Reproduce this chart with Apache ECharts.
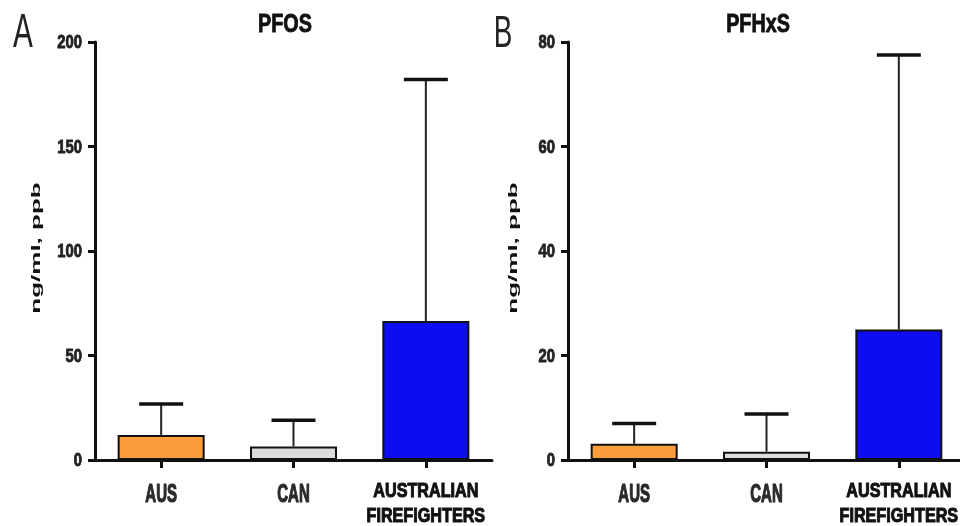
<!DOCTYPE html>
<html>
<head>
<meta charset="utf-8">
<script src="https://cdn.jsdelivr.net/npm/echarts@6/dist/echarts.min.js"></script>
<style>
html,body{margin:0;padding:0;background:#fff;}
#chart{width:960px;height:526px;}
</style>
</head>
<body>
<div id="chart"></div>
<script>
var categories = ['AUS', 'CAN', 'AUSTRALIAN\nFIREFIGHTERS'];
var pfosMean = [12, 6.5, 66.5];
var pfosUpper = [26.8, 19, 182];
var pfhxsMean = [3.1, 1.6, 25];
var pfhxsUpper = [7, 8.8, 77.5];
var pfosTicks = [0, 50, 100, 150, 200];
var pfhxsTicks = [0, 20, 40, 60, 80];
var titles = ['PFOS', 'PFHxS'];
var panelLetters = ['A', 'B'];
var yName = 'ng/ml, ppb';
var barColors = ['#F99D3D', '#DCDCDC', '#0D0DF0'];

var FONT = 'Liberation Sans';
var chart = echarts.init(document.getElementById('chart'), null, {renderer: 'canvas'});

function yAxisCfg(gridIndex, ticks) {
  return {
    type: 'value', gridIndex: gridIndex,
    min: ticks[0], max: ticks[ticks.length - 1], interval: ticks[1] - ticks[0],
    axisLine: {show: true, lineStyle: {color: '#111', width: 3}},
    axisTick: {show: true, length: 7, lineStyle: {color: '#111', width: 3}},
    splitLine: {show: false},
    axisLabel: {show: false}
  };
}
function xAxisCfg(gridIndex) {
  return {
    type: 'category', gridIndex: gridIndex, data: categories,
    axisLine: {show: true, lineStyle: {color: '#111', width: 3}},
    axisTick: {show: true, alignWithLabel: true, length: 8, lineStyle: {color: '#111', width: 3}},
    axisLabel: {show: false}
  };
}
function barData(vals) {
  return vals.map(function (v, i) {
    return {value: v, itemStyle: {color: barColors[i]}};
  });
}
function errData(mean, upper) {
  return mean.map(function (m, i) { return [i, m, upper[i]]; });
}
function renderErr(params, api) {
  var base = api.coord([api.value(0), api.value(1)]);
  var top = api.coord([api.value(0), api.value(2)]);
  var half = 22;
  return {
    type: 'group',
    children: [
      {type: 'line', shape: {x1: base[0], y1: base[1], x2: top[0], y2: top[1]},
       style: {stroke: '#222', lineWidth: 2}},
      {type: 'line', shape: {x1: top[0] - half, y1: top[1], x2: top[0] + half, y2: top[1]},
       style: {stroke: '#111', lineWidth: 3.5}}
    ]
  };
}
// y tick labels (condensed look via horizontal scale)
function renderYLabel(params, api) {
  var v = api.value(1);
  var p = api.coord([0, v]);
  return {
    type: 'text', x: params.coordSys.x - 13, y: p[1] + 1, scaleX: 0.78,
    style: {text: String(v), font: 'bold 19px "Liberation Sans"', fontFamily: FONT, fontWeight: 'bold', fontSize: 19,
            fill: '#222', stroke: '#222', lineWidth: 0.9,
            align: 'right', verticalAlign: 'middle'}
  };
}
// category labels
function renderXLabel(params, api) {
  var i = api.value(0);
  var p = api.coord([i, 0]);
  var txt = categories[i];
  if (txt.indexOf('\n') >= 0) {
    return {
      type: 'text', x: p[0], y: p[1] + 44, scaleX: 0.77,
      style: {text: txt, font: 'bold 21px "Liberation Sans"', fontFamily: FONT, fontWeight: 'bold', fontSize: 21,
              lineHeight: 25, fill: '#111', stroke: '#111', lineWidth: 1.1,
              align: 'center', verticalAlign: 'middle'}
    };
  }
  return {
    type: 'text', x: p[0], y: p[1] + 35, scaleX: 0.6,
    style: {text: txt, font: 'bold 25px "Liberation Sans"', fontFamily: FONT, fontWeight: 'bold', fontSize: 25,
            fill: '#2a2a2a', stroke: '#2a2a2a', lineWidth: 1.2,
            align: 'center', verticalAlign: 'middle'}
  };
}
function tickData(ticks) { return ticks.map(function (t) { return [0, t]; }); }
function catData() { return categories.map(function (c, i) { return [i, 0]; }); }

var option = {
  backgroundColor: '#fff',
  animation: false,
  graphic: [
    {type: 'text', x: 23, y: 34, scaleX: 0.62,
     style: {text: panelLetters[0], fontFamily: FONT, fontSize: 48, fill: '#222', align: 'center', verticalAlign: 'middle'}},
    {type: 'text', x: 503, y: 35, scaleX: 0.62,
     style: {text: panelLetters[1], fontFamily: FONT, fontSize: 45, fill: '#222', align: 'center', verticalAlign: 'middle'}},
    {type: 'text', x: 285, y: 25, scaleX: 0.76,
     style: {text: titles[0], font: 'bold 26px "Liberation Sans"', fontFamily: FONT, fontWeight: 'bold', fontSize: 26,
             fill: '#111', stroke: '#111', lineWidth: 0.9, align: 'center', verticalAlign: 'middle'}},
    {type: 'text', x: 758, y: 25, scaleX: 0.76,
     style: {text: titles[1], font: 'bold 26px "Liberation Sans"', fontFamily: FONT, fontWeight: 'bold', fontSize: 26,
             fill: '#111', stroke: '#111', lineWidth: 0.9, align: 'center', verticalAlign: 'middle'}},
    {type: 'text', x: 37, y: 248, rotation: Math.PI / 2, scaleY: 0.47,
     style: {text: yName, fontFamily: FONT, fontWeight: 'bold', fontSize: 26, fill: '#111', align: 'center', verticalAlign: 'middle'}},
    {type: 'text', x: 514, y: 248, rotation: Math.PI / 2, scaleY: 0.47,
     style: {text: yName, fontFamily: FONT, fontWeight: 'bold', fontSize: 26, fill: '#111', align: 'center', verticalAlign: 'middle'}}
  ],
  grid: [
    {left: 95, top: 42, width: 397, height: 418, outerBoundsMode: 'none', containLabel: false},
    {left: 568, top: 42, width: 397, height: 418, outerBoundsMode: 'none', containLabel: false}
  ],
  xAxis: [xAxisCfg(0), xAxisCfg(1)],
  yAxis: [yAxisCfg(0, pfosTicks), yAxisCfg(1, pfhxsTicks)],
  series: [
    {type: 'bar', xAxisIndex: 0, yAxisIndex: 0, barWidth: 87, data: barData(pfosMean),
     itemStyle: {borderColor: '#111', borderWidth: 2}},
    {type: 'bar', xAxisIndex: 1, yAxisIndex: 1, barWidth: 87, data: barData(pfhxsMean),
     itemStyle: {borderColor: '#111', borderWidth: 2}},
    {type: 'custom', xAxisIndex: 0, yAxisIndex: 0, data: errData(pfosMean, pfosUpper),
     renderItem: renderErr, encode: {x: 0, y: [1, 2]}, z: 3},
    {type: 'custom', xAxisIndex: 1, yAxisIndex: 1, data: errData(pfhxsMean, pfhxsUpper),
     renderItem: renderErr, encode: {x: 0, y: [1, 2]}, z: 3},
    {type: 'custom', xAxisIndex: 0, yAxisIndex: 0, data: tickData(pfosTicks), clip: false,
     renderItem: renderYLabel, encode: {x: 0, y: 1}, silent: true},
    {type: 'custom', xAxisIndex: 1, yAxisIndex: 1, data: tickData(pfhxsTicks), clip: false,
     renderItem: renderYLabel, encode: {x: 0, y: 1}, silent: true},
    {type: 'custom', xAxisIndex: 0, yAxisIndex: 0, data: catData(), clip: false,
     renderItem: renderXLabel, encode: {x: 0, y: 1}, silent: true},
    {type: 'custom', xAxisIndex: 1, yAxisIndex: 1, data: catData(), clip: false,
     renderItem: renderXLabel, encode: {x: 0, y: 1}, silent: true}
  ]
};
chart.setOption(option);
</script>
</body>
</html>
